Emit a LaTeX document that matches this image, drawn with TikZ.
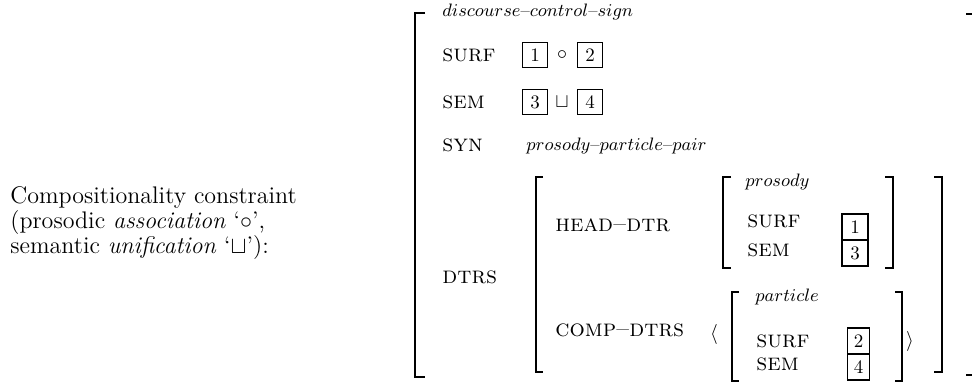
\documentclass[tikz,border=0pt]{standalone}
\usepackage{fontspec}
\tikzset{
  brk/.style={line width=1.1pt},
  tag/.style={draw, line width=0.9pt, minimum width=12.5pt, minimum height=12.5pt, inner sep=0pt, font=\fontsize{9.5}{10}\selectfont},
  attr/.style={anchor=base west, inner sep=0pt, font=\fontsize{12}{14}\selectfont\addfontfeatures{LetterSpace=3}\scshape},
  typ/.style={anchor=base west, inner sep=0pt, font=\fontsize{9}{10}\selectfont},
  lab/.style={anchor=north west, inner sep=0pt, align=left, font=\fontsize{12}{12.6}\selectfont},
  op/.style={inner sep=0pt, font=\fontsize{10}{12}\selectfont},
}
\begin{document}
\begin{tikzpicture}[x=0.5pt,y=-0.5pt]
\useasboundingbox (0,0) rectangle (972,383);
% left caption
\node[lab] (cap) at (10,186) {Compositionality constraint\\(prosodic \textit{association} `$\circ$',\\semantic \textit{unification} `$\sqcup$'):};
% outer brackets
\draw[brk] (425,13) -- (415,13) -- (415,377) -- (425,377);
\draw[brk] (966,14) -- (972,14);
\draw[brk] (966,375) -- (972,375);
% top level
\node[typ] (t0) at (442,17) {$discourse$--$control$--$sign$};
\node[attr] (surf) at (442,62) {surf};
\node[tag] (b1) at (535,55) {1};
\node[op] (circ) at (562,55) {$\circ$};
\node[tag] (b2) at (590,55) {2};
\node[attr] (sem) at (442,109) {sem};
\node[tag] (b3) at (535,102) {3};
\node[op] (cup) at (562,102) {$\sqcup$};
\node[tag] (b4) at (590,102) {4};
\node[attr] (syn) at (442,152) {syn};
\node[typ] (t1) at (526,151) {$prosody$--$particle$--$pair$};
\node[attr] (dtrs) at (442,284) {dtrs};
% DTRS bracket
\draw[brk] (543,177) -- (536,177) -- (536,372) -- (543,372);
\draw[brk] (934,177) -- (942,177) -- (942,372) -- (934,372);
% head-dtr
\node[attr] (hd) at (555,232) {head--dtr};
\draw[brk] (731,177) -- (723,177) -- (723,268) -- (731,268);
\draw[brk] (885,177) -- (893,177) -- (893,268) -- (885,268);
\node[typ] (t2) at (745,187) {$prosody$};
\node[attr] (hsurf) at (747,228) {surf};
\node[attr] (hsem) at (747,257) {sem};
\node[tag, minimum height=13pt, minimum width=13pt] (i1) at (855,227) {1};
\node[tag, minimum height=13pt, minimum width=13pt] (i3) at (855,253) {3};
% comp-dtrs
\node[attr] (cd) at (555,337) {comp--dtrs};
\node[op] (la) at (714,335) {$\langle$};
\node[op] (ra) at (910,342) {$\rangle$};
\draw[brk] (739,292) -- (732,292) -- (732,381) -- (739,381);
\draw[brk] (895,292) -- (902,292) -- (902,381) -- (895,381);
\node[typ] (t3) at (755,302) {$particle$};
\node[attr] (csurf) at (756,348) {surf};
\node[attr] (csem) at (756,371) {sem};
\node[tag, minimum height=13pt, minimum width=11pt] (i2) at (858.5,341) {2};
\node[tag, minimum height=13pt, minimum width=11pt] (i4) at (858.5,367) {4};
\end{tikzpicture}
\end{document}
